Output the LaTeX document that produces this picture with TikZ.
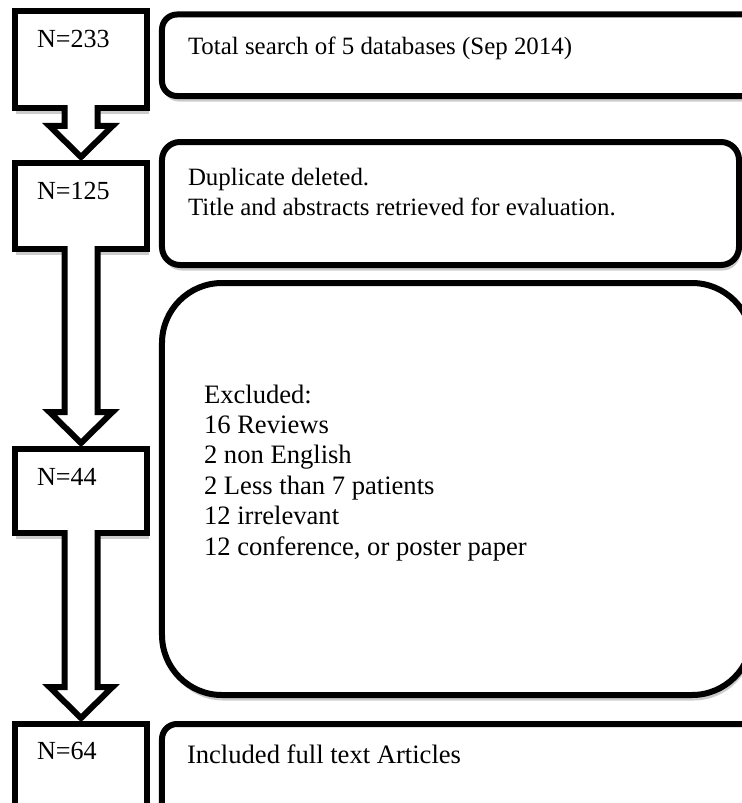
\documentclass[tikz,border=0pt]{standalone}
\usepackage{fontspec}
\setmainfont{Liberation Serif}
\usetikzlibrary{calc,shadows}
\tikzset{
  boxline/.style={draw=black, line width=6bp, fill=white, inner sep=0pt, outer sep=0pt,
    drop shadow={shadow xshift=1.5bp, shadow yshift=-5.5bp, opacity=0.2, fill=black}},
  sqbox/.style={boxline, rectangle},
  rbox/.style={boxline, rectangle, rounded corners=#1},
  rbox/.default=15bp,
  txt/.style={anchor=base west, inner sep=0pt, outer sep=0pt,
    font=\fontsize{24.9bp}{30bp}\selectfont},
  txtbig/.style={anchor=base west, inner sep=0pt, outer sep=0pt,
    font=\fontsize{26.6bp}{30bp}\selectfont},
  txtnum/.style={anchor=base west, inner sep=0pt, outer sep=0pt,
    font=\fontsize{26.1bp}{30bp}\selectfont},
  flowline/.style={fill=white, draw=black, line width=6bp, line join=miter, miter limit=10}
}
\newcommand\flowarrow[2]{%
  \path[flowline]
    let \p1=(#1.south), \p2=(#2.north) in
    (\x1-16.5bp,\y1+3bp) -- (\x1-16.5bp,\y2+37bp) -- (\x1-31.5bp,\y2+37bp)
    -- (\x1,\y2+6bp) -- (\x1+31.5bp,\y2+37bp) -- (\x1+16.5bp,\y2+37bp)
    -- (\x1+16.5bp,\y1+3bp);
}
\begin{document}
\begin{tikzpicture}[x=1bp,y=-1bp]
\useasboundingbox (0,0) rectangle (742,803);
\fill[white] (0,0) rectangle (742,803);
\clip (0,0) rectangle (742,803);

% left count boxes
\node[sqbox, minimum width=132bp, minimum height=97bp] (b1) at (81,59.5) {};
\node[sqbox, minimum width=132bp, minimum height=86bp] (b2) at (81,206) {};
\node[sqbox, minimum width=132bp, minimum height=84bp] (b3) at (81,491) {};
\node[sqbox, minimum width=132bp, minimum height=106bp] (b4) at (81,777) {};

% right description boxes
\node[rbox=15bp, minimum width=608bp, minimum height=81.5bp] (rA) at (466,55.25) {};
\node[rbox=18bp, minimum width=577bp, minimum height=123bp] (rB) at (450.5,203.5) {};
\node[rbox=60bp, minimum width=590bp, minimum height=412bp] (rC) at (457,489) {};
\node[rbox=15bp, minimum width=608bp, minimum height=106bp] (rD) at (466,777) {};

% block arrows
\flowarrow{b1}{b2}
\flowarrow{b2}{b3}
\flowarrow{b3}{b4}

% texts
\node[txtnum] (n1) at (37,48) {N=233};
\node[txtnum] (n2) at (37,199) {N=125};
\node[txtnum] (n3) at (37,485) {N=44};
\node[txtnum] (n4) at (37,759) {N=64};

\node[txt] (tA) at (188,55) {Total search of 5 databases (Sep 2014)};
\node[txt] (tB1) at (188,185) {Duplicate deleted.};
\node[txt] (tB2) at (188,215) {Title and abstracts retrieved for evaluation.};
\node[txtbig] (tC0) at (204,403) {Excluded:};
\node[txtbig] (tC1) at (204,433.4) {16 Reviews};
\node[txtbig] (tC2) at (204,463.8) {2 non English};
\node[txtbig] (tC3) at (204,494.2) {2 Less than 7 patients};
\node[txtbig] (tC4) at (204,524.6) {12 irrelevant};
\node[txtbig] (tC5) at (204,555) {12 conference, or poster paper};
\node[txtbig] (tD) at (187,763) {Included full text Articles};
\end{tikzpicture}
\end{document}
